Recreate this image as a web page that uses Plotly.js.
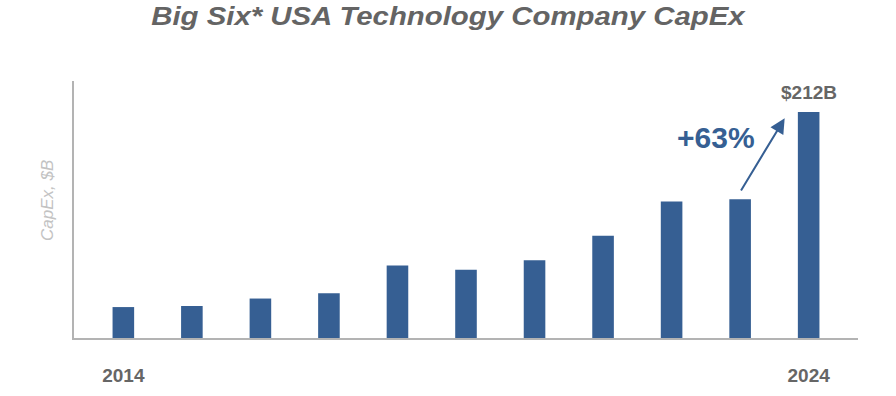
<!DOCTYPE html>
<html>
<head>
<meta charset="utf-8">
<script src="https://cdn.plot.ly/plotly-3.0.1.min.js"></script>
<style>html,body{margin:0;padding:0;background:#fff;}#chart{width:896px;height:396px;}</style>
</head>
<body>
<div id="chart"></div>
<script>
const years = [2014, 2015, 2016, 2017, 2018, 2019, 2020, 2021, 2022, 2023, 2024];
const capex = [29, 30, 37, 42, 68, 64, 73, 96, 128, 130, 212];
const tickYears = [2014, 2024];
const tickLabels = ['2014', '2024'];
const endLabel = '$212B';
const growthLabel = '+63%';
const yTitle = 'CapEx, $B';
const chartTitle = 'Big Six* USA Technology Company CapEx';

const barColor = '#365F93';
const gray = '#666666';
const FONT = 'Liberation Sans, Arial, sans-serif';

const data = [{
  type: 'bar',
  x: years,
  y: capex,
  width: 0.315,
  marker: {color: barColor, line: {width: 0}},
  hoverinfo: 'x+y'
}];

const layout = {
  width: 896, height: 396,
  margin: {l: 74, r: 38, t: 81, b: 58},
  paper_bgcolor: '#ffffff', plot_bgcolor: '#ffffff',
  showlegend: false,
  font: {family: FONT, color: gray},
  title: {
    text: '<b><i>' + chartTitle + '</i></b>',
    font: {size: 25, color: '#646464', family: FONT},
    x: 0.5, xanchor: 'center', y: 0.96, yanchor: 'middle'
  },
  xaxis: {
    range: [2013.28, 2024.72],
    tickvals: tickYears, ticktext: tickLabels,
    tickfont: {size: 19, color: gray, family: FONT, weight: 'bold'},
    showline: true, linecolor: '#b3b3b3', linewidth: 2,
    showgrid: false, zeroline: false, ticks: '',
    ticklabelstandoff: 19
  },
  yaxis: {
    range: [0, 241],
    showticklabels: false, showgrid: false, zeroline: false,
    showline: true, linecolor: '#b3b3b3', linewidth: 2, ticks: ''
  },
  annotations: [
    {x: -0.0332, y: 0.537, xref: 'paper', yref: 'paper', text: '<i>' + yTitle + '</i>', showarrow: false,
     textangle: -90, xanchor: 'center', yanchor: 'middle', font: {size: 17, color: '#c3c3c3'}},
    {x: 2024, y: 212, xref: 'x', yref: 'y', text: '<b>' + endLabel + '</b>', showarrow: false,
     yanchor: 'middle', yshift: 19, font: {size: 19, color: gray}},
    {x: 2022.65, y: 188, xref: 'x', yref: 'y', text: '<b>' + growthLabel + '</b>', showarrow: false,
     xanchor: 'center', yanchor: 'middle', font: {size: 30, color: barColor}},
    {x: 2023.65, y: 206, ax: 2023.0, ay: 137, xref: 'x', yref: 'y', axref: 'x', ayref: 'y',
     text: '', showarrow: true, arrowhead: 2, arrowsize: 1.5, arrowwidth: 2, arrowcolor: barColor}
  ]
};

Plotly.newPlot('chart', data, layout, {displayModeBar: false, staticPlot: true}).then(function () {
  const t = document.querySelector('#chart .gtitle');
  if (t) {
    const bb = t.getBBox();
    const cx = bb.x + bb.width / 2;
    const sx = 595 / bb.width;
    t.setAttribute('transform', 'translate(' + cx + ',0) scale(' + sx + ',1) translate(' + (-cx) + ',0)');
  }
});
</script>
</body>
</html>
